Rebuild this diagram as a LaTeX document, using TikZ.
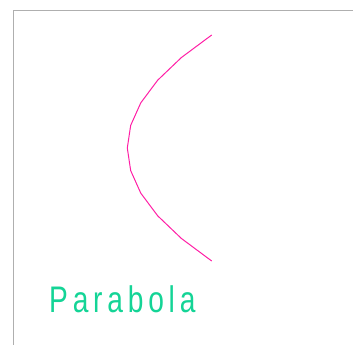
\documentclass[tikz,border=0pt]{standalone}
\usepackage{fontspec}
\newfontfamily\lblfont[FakeStretch=0.76,LetterSpace=13]{Liberation Sans}
\definecolor{curvecol}{RGB}{255,30,165}
\definecolor{textcol}{RGB}{20,212,150}
\definecolor{framecol}{RGB}{175,175,175}
\begin{document}
\begin{tikzpicture}[x=1pt,y=-1pt,
  frameline/.style={draw=framecol,line width=1.8pt},
  curveline/.style={draw=curvecol,line width=1pt,line join=round},
  lbl/.style={text=textcol,font=\lblfont\fontsize{37}{40}\selectfont,inner sep=0pt,anchor=base west}]
\useasboundingbox (0,0) rectangle (353,345);
\coordinate (tr) at (353,10.5);
\coordinate (tl) at (13.5,10.5);
\coordinate (bl) at (13.5,345);
\draw[frameline] (tr) -- (tl) -- (bl);
\draw[curveline] plot[samples=11,domain=-1:1] ({127.3+84.4*\x*\x},{148+113*\x});
\node[lbl] (label) at (49,312) {Parabola};
\end{tikzpicture}
\end{document}
